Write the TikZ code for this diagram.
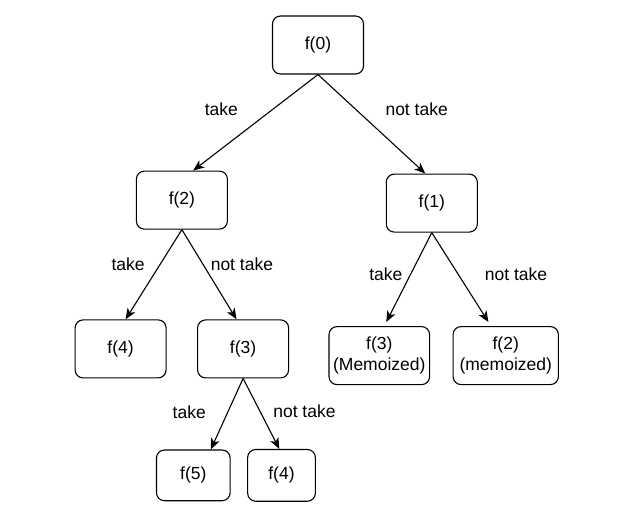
\documentclass[tikz,border=0pt]{standalone}
\usepackage{fontspec}
\setmainfont{Liberation Sans}
\usetikzlibrary{positioning, shapes, arrows.meta}

\begin{document}
\begin{tikzpicture}[
		x=1pt, y=-1pt,
		line width=1.1pt,
		font=\fontsize{17.5}{21.5}\selectfont,
		call/.style={rectangle, draw, rounded corners=8pt, minimum width=#1, minimum height=58pt, align=center, inner sep=0pt},
		call/.default=91pt,
		branch/.style={-{Stealth[length=11pt, width=9pt, inset=3pt]}},
		choice/.style={inner sep=0pt}
		]
		
		% fixed frame of the page
		\useasboundingbox (0,0) rectangle (632,526);
		
		% Root call
		\node[call] (f0) at (318,45) {f(0)};
		
		% Second level
		\node[call, below left=96pt and 44pt of f0] (f2) {f(2)};
		\node[call, below right=99pt and 21.7pt of f0] (f1) {f(1)};
		
		% Third level, left subtree
		\node[call, below=89.7pt of f2, xshift=-61.3pt] (f4a) {f(4)};
		\node[call, right=30.4pt of f4a] (f3a) {f(3)};
		
		% Third level, right subtree (already computed)
		\node[call=100.6pt, below=93.4pt of f1, xshift=-52.5pt] (f3m) {f(3)\\(Memoized)};
		\node[call=105.3pt, right=22.4pt of f3m] (f2m) {f(2)\\(memoized)};
		
		% Fourth level
		\node[call=73.7pt, minimum height=50.7pt, below=71pt of f3a, xshift=-49.8pt] (f5) {f(5)};
		\node[call=67.7pt, minimum height=51.7pt, right=16.4pt of f5] (f4b) {f(4)};
		
		% Branches with their labels
		\draw[branch] (f0.south) -- ([xshift=11.3pt]f2.north)
			node[choice, pos=.365, left=34pt] {take};
		\draw[branch] (f0.south) -- ([xshift=-6.5pt]f1.north)
			node[choice, pos=.354, right=29pt] {not take};
		
		\draw[branch] (f2.south) -- ([xshift=5pt]f4a.north)
			node[choice, pos=.385, left=15pt] {take};
		\draw[branch] (f2.south) -- ([xshift=-6.6pt]f3a.north)
			node[choice, pos=.385, right=7.3pt] {not take};
		
		\draw[branch] (f1.south) -- ([xshift=7pt, yshift=4pt]f3m.north)
			node[choice, pos=.469, left=7.5pt] {take};
		\draw[branch] (f1.south) -- ([xshift=-17.3pt, yshift=4pt]f2m.north)
			node[choice, pos=.469, right=26pt] {not take};
		
		\draw[branch] (f3a.south) -- ([xshift=17.5pt]f5.north)
			node[choice, pos=.471, left=21.6pt] {take};
		\draw[branch] (f3a.south) -- ([xshift=-2.2pt]f4b.north)
			node[choice, pos=.471, right=12.6pt] {not take};
		
	\end{tikzpicture}
\end{document}
